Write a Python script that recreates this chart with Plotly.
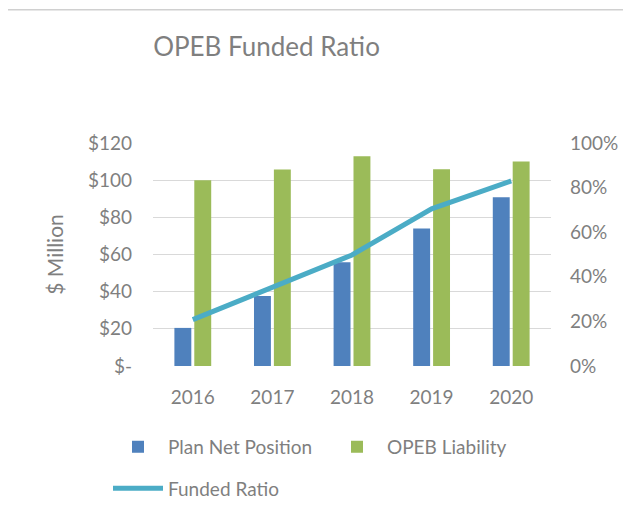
"""
OPEB Funded Ratio chart
Bars for plan net position and liability, line for funded ratio
"""

import plotly.graph_objects as go

years = ['2016', '2017', '2018', '2019', '2020']
plan_net_position = [20.5, 37.7, 55.8, 74.0, 90.8]
opeb_liability = [100.0, 105.8, 112.9, 105.9, 110.0]
funded_ratio = [0.208, 0.355, 0.498, 0.705, 0.83]

left_ticks = [0, 20, 40, 60, 80, 100, 120]
left_labels = ['$-', '$20', '$40', '$60', '$80', '$100', '$120']
right_ticks = [0, 0.2, 0.4, 0.6, 0.8, 1.0]
right_labels = ['0%', '20%', '40%', '60%', '80%', '100%']

FONT = 'Lato'
TXT = '#7f7f7f'
OFF = 8  # page body margin in the browser
W, H = 631 - OFF, 519 - OFF
L, T = 153 - OFF, 143 - OFF
PW, PH = 398, 226
R, B = W - L - PW, H - T - PH


def px_x(x):
    # screen pixel x -> paper coordinate
    return (x - OFF - L) / PW


def px_y(y):
    # screen pixel y (from top) -> paper coordinate
    return (T + PH - (y - OFF)) / PH


fig = go.Figure()

fig.add_trace(go.Bar(
    x=years, y=plan_net_position, name='Plan Net Position',
    marker=dict(color='#4F81BD', line=dict(width=0))
))
fig.add_trace(go.Bar(
    x=years, y=opeb_liability, name='OPEB Liability',
    marker=dict(color='#9BBB59', line=dict(width=0))
))
fig.add_trace(go.Scatter(
    x=years, y=funded_ratio, name='Funded Ratio', yaxis='y2',
    mode='lines', line=dict(color='#4BACC6', width=5), legend='legend2'
))

fig.update_layout(
    width=W,
    height=H,
    margin=dict(l=L, r=R, t=T, b=B),
    paper_bgcolor='white',
    plot_bgcolor='white',
    font=dict(family=FONT, size=19, color=TXT),
    title=dict(
        text='OPEB Funded Ratio', x=px_x(266.5), xref='paper', xanchor='center',
        y=1 - (47 - OFF) / H, yanchor='middle',
        font=dict(family=FONT, size=26, color=TXT)
    ),
    barmode='group',
    bargap=0.5,
    bargroupgap=0.15,
    xaxis=dict(
        showgrid=False, showline=False, ticks='', ticklabelstandoff=18,
        tickfont=dict(size=19, color=TXT), automargin=False
    ),
    yaxis=dict(
        range=[0, 120], tickvals=left_ticks, ticktext=left_labels,
        showgrid=True, gridcolor='#D9D9D9', gridwidth=1.3,
        zeroline=False, ticks='', ticklabelstandoff=20, automargin=False,
        title=dict(text='$ Million', font=dict(size=21, color=TXT), standoff=18),
        tickfont=dict(size=19, color=TXT)
    ),
    yaxis2=dict(
        range=[0, 1], tickvals=right_ticks, ticktext=right_labels,
        overlaying='y', side='right', showgrid=False, zeroline=False,
        ticks='', ticklabelstandoff=18, automargin=False,
        tickfont=dict(size=19, color=TXT)
    ),
    legend=dict(
        orientation='h', x=px_x(108), xanchor='left', y=px_y(451), yanchor='middle',
        font=dict(size=19, color=TXT), entrywidth=154, entrywidthmode='pixels',
        itemwidth=50, bgcolor='rgba(0,0,0,0)'
    ),
    legend2=dict(
        orientation='h', x=px_x(108), xanchor='left', y=px_y(493), yanchor='middle',
        font=dict(size=19, color=TXT), itemwidth=50, bgcolor='rgba(0,0,0,0)'
    ),
    showlegend=True
)

# chart border (left and top edges visible in the frame)
bx, by = px_x(6), px_y(8)
fig.add_shape(type='line', xref='paper', yref='paper',
              x0=bx, x1=bx, y0=-2, y1=by,
              line=dict(color='#D0D0D0', width=1.5))
fig.add_shape(type='line', xref='paper', yref='paper',
              x0=bx, x1=2, y0=by, y1=by,
              line=dict(color='#D0D0D0', width=1.5))

fig.write_html("out.html")
